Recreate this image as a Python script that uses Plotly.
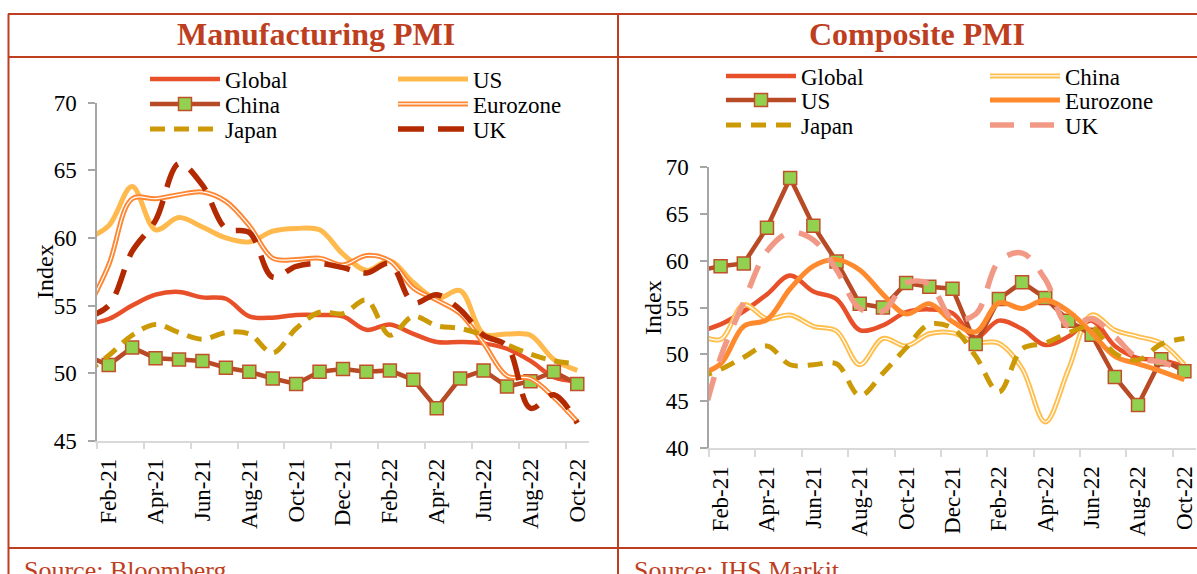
import plotly.graph_objects as go

# ---- data (Jan-21 .. Oct-22; Jan-21 sits just left of the visible axis) ----
months = ["Jan-21", "Feb-21", "Mar-21", "Apr-21", "May-21", "Jun-21", "Jul-21", "Aug-21",
          "Sep-21", "Oct-21", "Nov-21", "Dec-21", "Jan-22", "Feb-22", "Mar-22", "Apr-22",
          "May-22", "Jun-22", "Jul-22", "Aug-22", "Sep-22", "Oct-22"]

mfg_global = [53.6, 54.0, 55.0, 55.8, 56.0, 55.6, 55.5, 54.2, 54.1, 54.3, 54.3, 54.2,
              53.2, 53.6, 52.9, 52.3, 52.3, 52.2, 51.8, 50.9, 49.7, 49.4]
mfg_us = [59.9, 60.9, 63.8, 60.6, 61.5, 60.8, 60.0, 59.7, 60.5, 60.7, 60.6, 58.8,
          57.6, 58.3, 56.7, 55.5, 56.1, 52.9, 52.9, 52.8, 51.0, 50.2]
mfg_china = [51.3, 50.6, 51.9, 51.1, 51.0, 50.9, 50.4, 50.1, 49.6, 49.2, 50.1, 50.3,
             50.1, 50.2, 49.5, 47.4, 49.6, 50.2, 49.0, 49.4, 50.1, 49.2]
mfg_euro = [54.4, 58.0, 62.9, 62.9, 63.2, 63.4, 62.7, 60.9, 58.5, 58.4, 58.5, 58.0,
            58.7, 58.3, 56.3, 55.4, 54.4, 52.2, 49.8, 49.6, 48.2, 46.4]
mfg_japan = [50.0, 51.3, 52.8, 53.6, 53.0, 52.5, 53.0, 52.9, 51.5, 53.3, 54.5, 54.4,
             55.4, 52.8, 54.2, 53.5, 53.3, 52.8, 52.1, 51.4, 50.9, 50.7]
mfg_uk = [54.1, 55.0, 59.0, 61.3, 65.5, 63.9, 60.7, 60.4, 57.1, 57.9, 58.1, 57.8,
          57.4, 58.1, 55.2, 55.8, 54.7, 52.8, 52.0, 47.4, 48.4, 46.3]

cmp_global = [52.4, 53.2, 54.6, 56.4, 58.4, 56.7, 55.9, 52.6, 53.1, 54.5, 54.8, 54.4,
              51.8, 53.6, 52.7, 51.0, 51.9, 53.6, 50.9, 49.6, 49.4, 48.7]
cmp_china = [52.2, 51.6, 55.3, 53.8, 54.2, 53.0, 52.5, 48.9, 51.7, 50.9, 52.2, 52.3,
             51.3, 51.2, 48.5, 42.8, 48.4, 54.2, 52.6, 51.9, 51.2, 48.9]
cmp_us = [58.9, 59.4, 59.7, 63.5, 68.8, 63.7, 59.9, 55.4, 55.0, 57.6, 57.2, 57.0,
          51.1, 55.9, 57.7, 56.0, 53.6, 52.1, 47.6, 44.6, 49.5, 48.2]
cmp_euro = [47.8, 49.0, 53.0, 53.7, 57.0, 59.4, 60.1, 59.0, 56.4, 54.3, 55.4, 53.5,
            52.4, 55.5, 54.9, 55.8, 54.6, 52.3, 49.8, 49.0, 48.2, 47.3]
cmp_japan = [47.5, 48.4, 49.7, 50.9, 48.9, 48.9, 49.0, 45.6, 48.0, 50.7, 53.2, 52.8,
             49.8, 46.0, 50.6, 51.2, 52.3, 52.9, 50.1, 49.4, 51.1, 51.7]
cmp_uk = [41.0, 49.7, 55.6, 61.0, 63.0, 62.2, 59.0, 54.9, 54.6, 57.6, 57.5, 53.8,
          54.3, 59.9, 60.8, 58.0, 53.0, 53.8, 51.9, 49.6, 49.2, 48.2]

W, H = 1197, 574
SERIF = "Liberation Serif, Times New Roman, serif"
FRAME = "#BE3F1F"
x = list(range(len(months)))

fig = go.Figure()


def line(ys, name, color, width, axis, legend, dash="solid", spline=True,
         markers=False, core=None, core_legend=None):
    xa, ya = axis
    fig.add_trace(go.Scatter(
        x=x, y=ys, name=name, xaxis=xa, yaxis=ya, legend=legend,
        mode="lines+markers" if markers else "lines",
        line=dict(color=color, width=width, dash=dash,
                  shape="spline" if spline else "linear", smoothing=1.0),
        marker=dict(symbol="square", size=13, color="#92D050",
                    line=dict(color="#C0502A", width=1.5)),
    ))
    if core:
        # thin white line on top gives the "double line" look
        fig.add_trace(go.Scatter(
            x=x, y=ys, name="", xaxis=xa, yaxis=ya, legend=core_legend,
            mode="lines", showlegend=core_legend is not None,
            line=dict(color=core, width=1.2, shape="spline", smoothing=1.0),
        ))


L, R = ("x", "y"), ("x2", "y2")

# Manufacturing PMI
line(mfg_global, "Global", "#E8502A", 4.5, L, "legend")
line(mfg_us, "US", "#FFB94C", 5, L, "legend2")
line(mfg_china, "China", "#B84A26", 4.5, L, "legend3", spline=False, markers=True)
line(mfg_euro, "Eurozone", "#FF8733", 5, L, "legend4", core="white", core_legend="legend13")
line(mfg_japan, "Japan", "#CC9A06", 5, L, "legend5", dash="15px,9px")
line(mfg_uk, "UK", "#B32A00", 5.5, L, "legend6", dash="26px,14px")

# Composite PMI
line(cmp_global, "Global", "#E8502A", 4.5, R, "legend7")
line(cmp_china, "China", "#FFBF4F", 5, R, "legend8", core="white", core_legend="legend14")
line(cmp_us, "US", "#B84A26", 4.5, R, "legend9", spline=False, markers=True)
line(cmp_euro, "Eurozone", "#FF8A2E", 5, R, "legend10")
line(cmp_japan, "Japan", "#CC9A06", 5, R, "legend11", dash="15px,10px")
line(cmp_uk, "UK", "#F29985", 5.5, R, "legend12", dash="24px,16px")


def legend_at(x_px, y_px):
    return dict(x=x_px / W, y=1 - y_px / H, xanchor="left", yanchor="middle",
                bgcolor="rgba(0,0,0,0)", borderwidth=0, itemwidth=70,
                font=dict(family=SERIF, size=23, color="black"))


legend_spots = {
    "legend": (145, 79), "legend2": (393, 79),
    "legend3": (145, 104), "legend4": (393, 104),
    "legend5": (145, 129), "legend6": (393, 129),
    "legend7": (721, 76), "legend8": (985, 76),
    "legend9": (721, 100), "legend10": (985, 100),
    "legend11": (721, 125), "legend12": (985, 125),
    "legend13": (393, 104), "legend14": (985, 76),
}
for key, (lx, ly) in legend_spots.items():
    fig.update_layout({key: legend_at(lx, ly)})

tick_font = dict(family=SERIF, size=23, color="black")


def x_axis(left, right):
    return dict(domain=[left / W, right / W], range=[0.5, len(months) - 0.5],
                tickmode="array", tickvals=x[1::2], ticktext=months[1::2],
                tickangle=-90, ticks="", showgrid=False, zeroline=False,
                showline=True, linecolor="#D9D9D9", linewidth=1.5,
                minor=dict(ticks="outside", tick0=0.5, dtick=2, ticklen=7,
                           tickcolor="#D9D9D9", tickwidth=1.5, showgrid=False),
                ticklabelstandoff=7, tickfont=tick_font, automargin=False)


def y_axis(top, bottom, lo, hi, xa):
    return dict(domain=[1 - bottom / H, 1 - top / H], range=[lo, hi], dtick=5,
                anchor=xa, ticks="outside", ticklen=7, tickcolor="#A6A6A6",
                tickwidth=1.5, showline=True, linecolor="#A6A6A6", linewidth=1.5,
                showgrid=False, zeroline=False, ticklabelstandoff=7,
                tickfont=tick_font, automargin=False)


fig.update_layout(
    width=W, height=H, showlegend=True,
    margin=dict(l=0, r=0, t=0, b=0, autoexpand=False),
    paper_bgcolor="white", plot_bgcolor="white",
    xaxis=dict(x_axis(97, 589), anchor="y"),
    yaxis=y_axis(102.7, 440.7, 45, 70, "x"),
    xaxis2=dict(x_axis(709, 1196), anchor="y2"),
    yaxis2=y_axis(166.7, 448.3, 40, 70, "x2"),
)

# table-like frame around the two panels
frame = [(8, 14, W, 14), (8, 57, W, 57), (8, 548, W, 548),
         (8.5, 14, 8.5, H), (618, 14, 618, H)]
for x0, y0, x1, y1 in frame:
    fig.add_shape(type="line", xref="paper", yref="paper",
                  x0=x0 / W, x1=x1 / W, y0=1 - y0 / H, y1=1 - y1 / H,
                  line=dict(color=FRAME, width=2))

notes = [
    ("<b>Manufacturing PMI</b>", 316, 34, 32, FRAME, 0, "center"),
    ("<b>Composite PMI</b>", 917, 34, 32, FRAME, 0, "center"),
    ("Index", 45, 272, 24, "black", -90, "center"),
    ("Index", 653, 308, 24, "black", -90, "center"),
    ("Source: Bloomberg", 22, 570, 26, FRAME, 0, "left"),
    ("Source: IHS Markit", 632, 570, 26, FRAME, 0, "left"),
]
for text, ax_px, ay_px, size, color, angle, anchor in notes:
    fig.add_annotation(text=text, xref="paper", yref="paper", x=ax_px / W,
                       y=1 - ay_px / H, xanchor=anchor, yanchor="middle",
                       textangle=angle, showarrow=False,
                       font=dict(family=SERIF, size=size, color=color))

fig.write_html("out.html", config={"displayModeBar": False},
               post_script="document.body.style.margin = '0';")
